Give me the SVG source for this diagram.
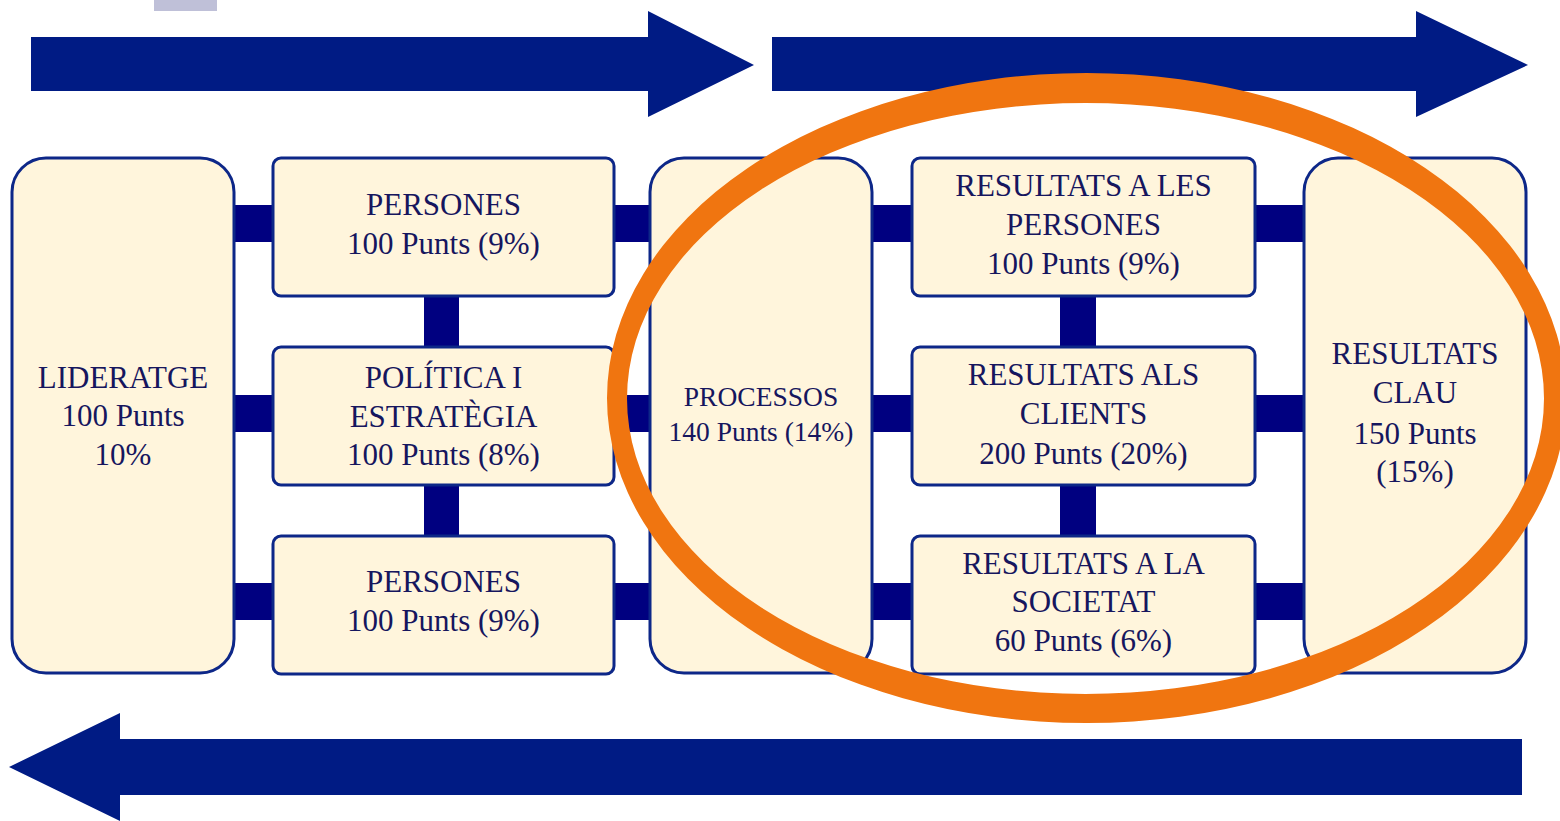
<svg xmlns="http://www.w3.org/2000/svg" width="1560" height="821" viewBox="0 0 1560 821">
<style>
.box{fill:#FFF5DC;stroke:#0d2788;stroke-width:3}
.arrow{fill:#001B84}
.conn{fill:#000080}
text{font-family:"Liberation Serif","Times New Roman",serif;fill:#16165e;text-anchor:middle}
.t{font-size:31px}
.s{font-size:27.5px}
</style>
<rect x="154" y="0" width="63" height="11" fill="#BFC0D8"/>
<g id="arrows">
<polygon class="arrow" points="31,37 648,37 648,11 754,65 648,117 648,91 31,91"/>
<polygon class="arrow" points="772,37 1416,37 1416,11 1528,65 1416,117 1416,91 772,91"/>
<polygon class="arrow" points="1522,739 120,739 120,713 9,767 120,821 120,795 1522,795"/>
</g>
<g id="connectors">
<rect class="conn" x="232" y="205" width="44" height="37"/>
<rect class="conn" x="232" y="395" width="44" height="37"/>
<rect class="conn" x="232" y="583" width="44" height="37"/>
<rect class="conn" x="612" y="205" width="40" height="37"/>
<rect class="conn" x="612" y="395" width="40" height="37"/>
<rect class="conn" x="612" y="583" width="40" height="37"/>
<rect class="conn" x="870" y="205" width="44" height="37"/>
<rect class="conn" x="870" y="395" width="44" height="37"/>
<rect class="conn" x="870" y="583" width="44" height="37"/>
<rect class="conn" x="1253" y="205" width="53" height="37"/>
<rect class="conn" x="1253" y="395" width="53" height="37"/>
<rect class="conn" x="1253" y="583" width="53" height="37"/>
<rect class="conn" x="424" y="294" width="35" height="55"/>
<rect class="conn" x="424" y="483" width="35" height="55"/>
<rect class="conn" x="1060" y="294" width="36" height="55"/>
<rect class="conn" x="1060" y="483" width="36" height="55"/>
</g>
<g id="lideratge">
<rect class="box" x="12" y="158" width="222" height="515" rx="34"/>
<text class="t" x="123" y="388">LIDERATGE</text>
<text class="t" x="123" y="426">100 Punts</text>
<text class="t" x="123" y="465">10%</text>
</g>
<g id="persones1">
<rect class="box" x="273" y="158" width="341" height="138" rx="8"/>
<text class="t" x="443.5" y="215">PERSONES</text>
<text class="t" x="443.5" y="254">100 Punts (9%)</text>
</g>
<g id="politica">
<rect class="box" x="273" y="347" width="341" height="138" rx="8"/>
<text class="t" x="443.5" y="388">POLÍTICA I</text>
<text class="t" x="443.5" y="426.5">ESTRATÈGIA</text>
<text class="t" x="443.5" y="465">100 Punts (8%)</text>
</g>
<g id="persones2">
<rect class="box" x="273" y="536" width="341" height="138" rx="8"/>
<text class="t" x="443.5" y="592">PERSONES</text>
<text class="t" x="443.5" y="631">100 Punts (9%)</text>
</g>
<g id="processos">
<rect class="box" x="650" y="158" width="222" height="515" rx="34"/>
<text class="s" x="761" y="406">PROCESSOS</text>
<text class="s" x="761" y="441">140 Punts (14%)</text>
</g>
<g id="res-persones">
<rect class="box" x="912" y="158" width="343" height="138" rx="8"/>
<text class="t" x="1083.5" y="196">RESULTATS A LES</text>
<text class="t" x="1083.5" y="235">PERSONES</text>
<text class="t" x="1083.5" y="274">100 Punts (9%)</text>
</g>
<g id="res-clients">
<rect class="box" x="912" y="347" width="343" height="138" rx="8"/>
<text class="t" x="1083.5" y="385">RESULTATS ALS</text>
<text class="t" x="1083.5" y="424">CLIENTS</text>
<text class="t" x="1083.5" y="464">200 Punts (20%)</text>
</g>
<g id="res-societat">
<rect class="box" x="912" y="536" width="343" height="138" rx="8"/>
<text class="t" x="1083.5" y="573.5">RESULTATS A LA</text>
<text class="t" x="1083.5" y="612">SOCIETAT</text>
<text class="t" x="1083.5" y="651">60 Punts (6%)</text>
</g>
<g id="res-clau">
<rect class="box" x="1304" y="158" width="222" height="515" rx="34"/>
<text class="t" x="1415" y="364">RESULTATS</text>
<text class="t" x="1415" y="403">CLAU</text>
<text class="t" x="1415" y="444">150 Punts</text>
<text class="t" x="1415" y="482">(15%)</text>
</g>
<g id="highlight">
<path fill="#F07510" fill-rule="evenodd" d="M607,398 A479.5,325 0 1,0 1566,398 A479.5,325 0 1,0 607,398 Z M627,398.5 A458.5,295.5 0 1,0 1544,398.5 A458.5,295.5 0 1,0 627,398.5 Z"/>
</g>
</svg>
